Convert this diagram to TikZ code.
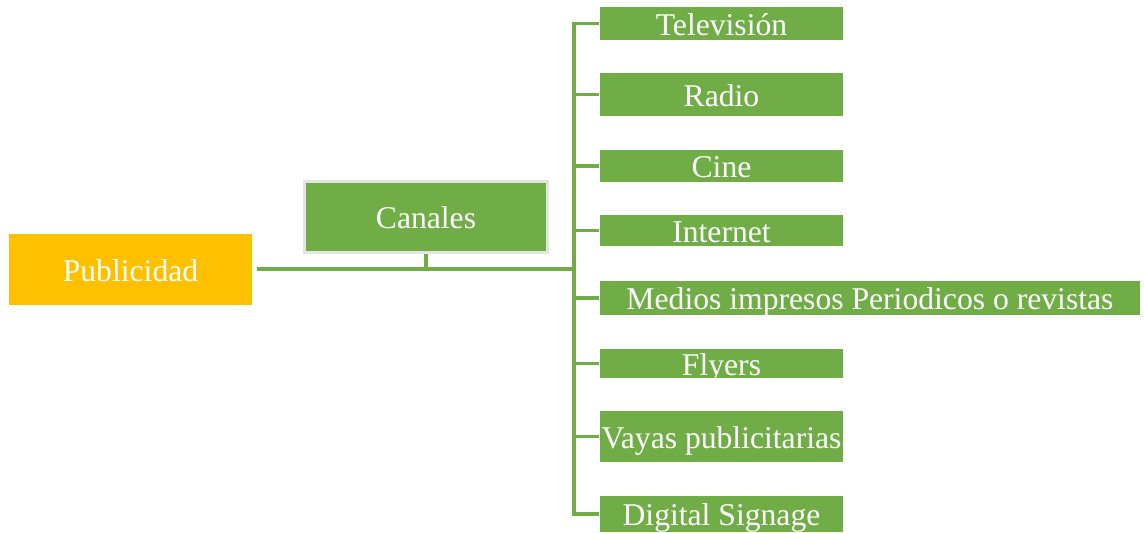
\documentclass[tikz,border=0pt]{standalone}
\usepackage{fontspec}
\setmainfont{Liberation Serif}
\usepackage{tikz}
\usetikzlibrary{positioning,calc}

\definecolor{hojaverde}{HTML}{70AD47}
\definecolor{hojaamarilla}{HTML}{FFC000}
\definecolor{bordegris}{HTML}{E4E4E4}

\begin{document}
\begin{tikzpicture}[x=0.01cm,y=-0.01cm,
  every node/.style={font=\fontsize{9}{10}\selectfont,text=white,inner sep=0pt,
    text height=0.662em,text depth=0pt},
  hoja/.style={fill=hojaverde,minimum width=2.43cm},
  raiz/.style={fill=hojaamarilla,minimum width=2.43cm,minimum height=0.71cm},
  rama/.style={draw=hojaverde,line width=1pt}]
\useasboundingbox (0,0) rectangle (1144,532);
% root and middle level
\node[raiz] (pub) at (130.5,269.5) {Publicidad};
\node[hoja,draw=bordegris,line width=0.85pt,minimum width=2.43cm,minimum height=0.71cm]
  (can) at (426,217) {Canales};
% the eight channels (x centre 721.5)
\node[hoja,minimum height=0.33cm] (tv) at (721.5,23.5) {Televisión};
\node[hoja,minimum height=0.43cm] (radio) at (721.5,94.5) {Radio};
\node[hoja,minimum height=0.32cm] (cine) at (721.5,166) {Cine};
\node[hoja,minimum height=0.31cm] (inter) at (721.5,230.5) {Internet};
\node[hoja,minimum width=5.40cm,minimum height=0.34cm] (medios) at (870,298) {Medios impresos Periodicos o revistas};
\node[hoja,minimum height=0.29cm] (fly) at (721.5,363.5) {Flyers};
\node[hoja,minimum height=0.51cm] (vayas) at (721.5,436.5) {Vayas publicitarias};
\node[hoja,minimum height=0.36cm] (sig) at (721.5,514) {Digital Signage};
% connectors
\coordinate (hub) at (574,269);
\draw[rama] ([xshift=0.04cm]pub.east |- hub) -- (hub);
\draw[rama] (can.south) -- (can.south |- hub);
\draw[rama,line join=miter] (tv.west) -- (tv.west -| hub) -- (sig.west -| hub) -- (sig.west);
\foreach \n in {radio,cine,inter,medios,fly,vayas}
  \draw[rama] (\n.west -| hub) -- (\n.west);
\end{tikzpicture}
\end{document}
